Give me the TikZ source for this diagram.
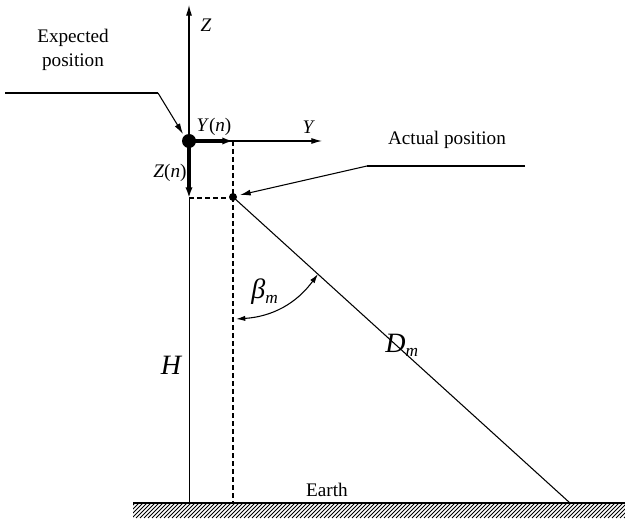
\documentclass[tikz,border=0pt]{standalone}
\usepackage{fontspec}
\setmainfont{Liberation Serif}
\usetikzlibrary{arrows.meta,calc}

\begin{document}
\begin{tikzpicture}[
    x=0.75pt, y=-0.75pt,
    font=\fontsize{14.4}{18}\selectfont,
    thin line/.style={line width=0.8pt},
    ar/.style={-{Latex[length=8pt,width=4.5pt]}, line width=0.8pt},
    bigar/.style={-{Latex[length=8pt,width=5.5pt]}, line width=2.5pt},
    dashline/.style={line width=0.8pt, dash pattern=on 3.5pt off 2.5pt},
    lbl/.style={inner sep=0pt},
    big/.style={inner sep=0pt, font=\fontsize{21}{22}\selectfont\itshape},
  ]
    \useasboundingbox (0,0) rectangle (625,520);
    % points of the geometry
    \coordinate (exp) at (189,141);
    \coordinate (act) at (233,197);
    \coordinate (ztip) at (189,5);
    \coordinate (ytip) at (322,141);
    \coordinate (yn) at (233,141);
    \coordinate (zn) at (189,198);
    \coordinate (base) at (189,503);
    \coordinate (dbase) at (233,503);
    \coordinate (far) at (570,503);
    \coordinate (gl) at (133,503);
    \coordinate (gr) at (625,503);
    \coordinate (b1) at (236,319);
    \coordinate (b2) at (318,274);
    % leaders
    \coordinate (e0) at (5,93);
    \coordinate (e1) at (158,93);
    \coordinate (e2) at (183,134);
    \coordinate (a0) at (525,166);
    \coordinate (a1) at (367,166);
    \coordinate (a2) at (240,195);

    % ground with hatching
    \begin{scope}
      \clip (133,503) rectangle (625,518);
      \foreach \i in {120,124,...,640}
        \draw[line width=0.7pt] (\i,518) -- (\i+15,503);
    \end{scope}
    \draw[line width=2pt] (gl) -- (gr);

    % axes
    \draw[line width=0.6pt] (base) -- (zn);
    \draw[ar] (exp) -- (ztip);
    \draw[ar] (exp) -- (ytip);
    \draw[bigar] (exp) -- (yn);
    \draw[bigar] (exp) -- (zn);
    \draw[dashline] (yn) -- (dbase);
    \draw[dashline] (zn) -- ($(act)+(-4,1)$);
    \draw[thin line] (act) -- (far);

    % points
    \fill (exp) circle[radius=7];
    \fill (act) circle[radius=4];

    % angle
    \draw[{Latex[length=7pt,width=4pt]}-{Latex[length=7pt,width=4pt]}, line width=0.8pt] (b1) to[bend right=25] (b2);

    % leaders
    \draw[thin line] (e0) -- (e1);
    \draw[ar] (e1) -- (e2);
    \draw[thin line] (a0) -- (a1);
    \draw[ar] (a1) -- (a2);

    % labels
    \node[lbl, align=center] (expl) at (73,50) {Expected\\position};
    \node[lbl] (actl) at (447,140) {Actual position};
    \node[lbl] (zl) at (206,25) {\itshape Z};
    \node[lbl] (yl) at (308,127) {\itshape Y};
    \node[lbl] (ynl) at (214,127) {\textit{Y}(\textit{n})};
    \node[lbl] (znl) at (170,173) {\textit{Z}(\textit{n})};
    \node[big] (hl) at (171,365) {H};
    \node[big] (bl) at (265,292) {β\textsubscript{\fontsize{13}{14}\selectfont m}};
    \node[big] (dl) at (402,345) {D\textsubscript{\fontsize{13}{14}\selectfont m}};
    \node[lbl] (earth) at (327,490) {Earth};
  \end{tikzpicture}
\end{document}
